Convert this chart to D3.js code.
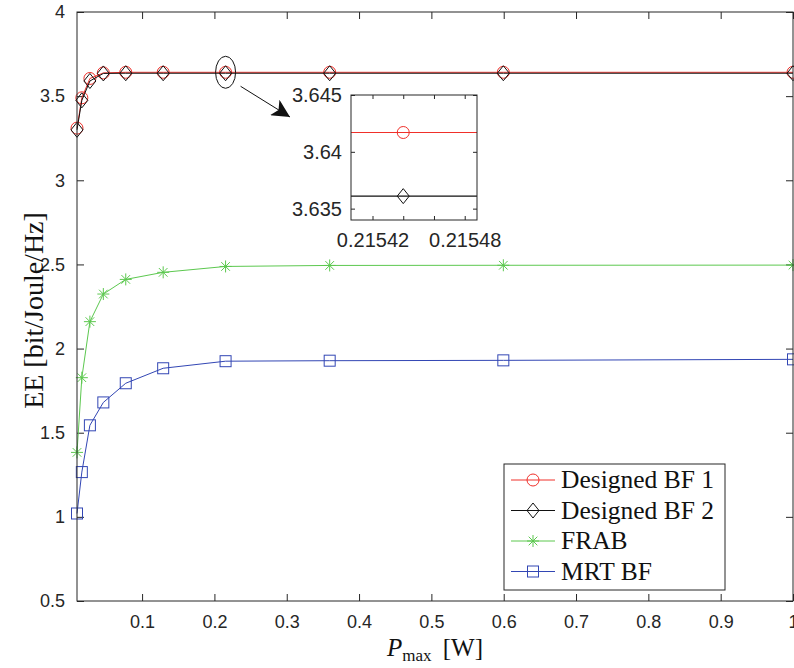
<!DOCTYPE html>
<html>
<head>
<meta charset="utf-8">
<script src="https://cdn.jsdelivr.net/npm/d3@7"></script>
<style>
  body { margin: 0; background: #fff; }
  svg { display: block; }
  .tick text { font-family: "Liberation Sans", Arial, sans-serif; fill: #262626; }
</style>
</head>
<body>
<svg id="svg" width="794" height="668"></svg>
<script>
// transmit power values (W)
const pmax = [0.01, 0.016681, 0.027826, 0.046416, 0.077426, 0.12915, 0.21544, 0.35938, 0.59948, 1];
// energy efficiency per scheme
const designedBF1 = [3.31, 3.49, 3.605, 3.638, 3.6417, 3.6417, 3.6417, 3.6417, 3.6417, 3.6417];
const designedBF2 = [3.30, 3.475, 3.59, 3.635, 3.6361, 3.6361, 3.6361, 3.6361, 3.6361, 3.6361];
const frab = [1.383, 1.827, 2.16, 2.324, 2.411, 2.453, 2.488, 2.494, 2.495, 2.496];
const mrtBF = [1.02, 1.266, 1.544, 1.68, 1.794, 1.883, 1.925, 1.928, 1.930, 1.936];

const seriesNames = ["Designed BF 1", "Designed BF 2", "FRAB", "MRT BF"];
const xTicks = [0.1, 0.2, 0.3, 0.4, 0.5, 0.6, 0.7, 0.8, 0.9, 1];
const yTicks = [0.5, 1, 1.5, 2, 2.5, 3, 3.5, 4];
const insetXTicks = [0.21542, 0.21544, 0.21546, 0.21548];
const insetXLabels = ["0.21542", "", "", "0.21548"];
const insetYTicks = [3.635, 3.64, 3.645];

const axisColor = "#262626";
const serifFont = "'Liberation Serif', 'DejaVu Serif', serif";
const series = [
    {name: seriesNames[0], values: designedBF1, color: "#f0302a", marker: "circle"},
    {name: seriesNames[1], values: designedBF2, color: "#111111", marker: "diamond"},
    {name: seriesNames[2], values: frab, color: "#5cc84f", marker: "star"},
    {name: seriesNames[3], values: mrtBF, color: "#3246b4", marker: "square"}
];

const svg = d3.select("#svg");
const m = {left: 77, right: 793, top: 12, bottom: 601};

const x = d3.scaleLinear().domain([0.01, 1]).range([m.left, m.right]);
const y = d3.scaleLinear().domain([0.5, 4]).range([m.bottom, m.top]);

// marker drawing
function drawMarker(g, type, cx, cy, color, s) {
    s = s || 1;
    if (type === "circle") {
        g.append("circle").attr("cx", cx).attr("cy", cy).attr("r", 6 * s)
            .attr("fill", "none").attr("stroke", color).attr("stroke-width", 1);
    } else if (type === "diamond") {
        g.append("path")
            .attr("d", `M${cx},${cy - 7.5 * s} L${cx + 6 * s},${cy} L${cx},${cy + 7.5 * s} L${cx - 6 * s},${cy} Z`)
            .attr("fill", "none").attr("stroke", color).attr("stroke-width", 1);
    } else if (type === "square") {
        g.append("rect").attr("x", cx - 5.5 * s).attr("y", cy - 5.5 * s)
            .attr("width", 11 * s).attr("height", 11 * s)
            .attr("fill", "none").attr("stroke", color).attr("stroke-width", 1);
    } else if (type === "star") {
        let r = 6 * s, d = r * 0.72;
        g.append("path")
            .attr("d", `M${cx - r},${cy} L${cx + r},${cy} M${cx},${cy - r} L${cx},${cy + r}` +
                ` M${cx - d},${cy - d} L${cx + d},${cy + d} M${cx - d},${cy + d} L${cx + d},${cy - d}`)
            .attr("fill", "none").attr("stroke", color).attr("stroke-width", 1);
    }
}

// ****************** main axes ***************************
function styleAxis(g) {
    g.select(".domain").remove();
    g.selectAll(".tick line").attr("stroke", axisColor);
}

svg.append("g")
    .attr("transform", `translate(0,${m.bottom})`)
    .call(d3.axisBottom(x).tickValues(xTicks).tickSizeInner(-7).tickSizeOuter(0).tickPadding(14)
        .tickFormat(d3.format("~g")))
    .call(styleAxis)
    .selectAll("text").attr("font-size", 18);

svg.append("g")
    .attr("transform", `translate(0,${m.top})`)
    .call(d3.axisTop(x).tickValues(xTicks).tickSizeInner(-7).tickSizeOuter(0).tickFormat(""))
    .call(styleAxis);

svg.append("g")
    .attr("transform", `translate(${m.left},0)`)
    .call(d3.axisLeft(y).tickValues(yTicks).tickSizeInner(-7).tickSizeOuter(0).tickPadding(12)
        .tickFormat(d3.format("~g")))
    .call(styleAxis)
    .selectAll("text").attr("font-size", 18);

svg.append("g")
    .attr("transform", `translate(${m.right},0)`)
    .call(d3.axisRight(y).tickValues(yTicks).tickSizeInner(-7).tickSizeOuter(0).tickFormat(""))
    .call(styleAxis);

// ****************** series ***************************
const line = d3.line().x((d, i) => x(pmax[i])).y(d => y(d));
series.forEach(function (s) {
    let g = svg.append("g");
    g.append("path").datum(s.values).attr("d", line)
        .attr("fill", "none").attr("stroke", s.color).attr("stroke-width", 1);
    s.values.forEach(function (v, i) {
        drawMarker(g, s.marker, x(pmax[i]), y(v), s.color);
    });
});

// box
svg.append("rect").attr("x", m.left).attr("y", m.top)
    .attr("width", m.right - m.left).attr("height", m.bottom - m.top)
    .attr("fill", "none").attr("stroke", axisColor).attr("stroke-width", 1);

// axis labels
svg.append("text")
    .attr("x", (m.left + m.right) / 2).attr("y", 656)
    .attr("text-anchor", "middle")
    .attr("font-family", serifFont).attr("font-size", 25).attr("fill", "#111")
    .call(function (t) {
        t.append("tspan").attr("font-style", "italic").text("P");
        t.append("tspan").attr("font-size", 17).attr("dy", 5).text("max");
        t.append("tspan").attr("dy", -5).text("\u2009 [W]");
    });

svg.append("text")
    .attr("transform", `translate(43,${(m.top + m.bottom) / 2 + 4}) rotate(-90)`)
    .attr("text-anchor", "middle")
    .attr("font-family", serifFont).attr("font-size", 28).attr("fill", "#111")
    .text("EE [bit/Joule/Hz]");

// ****************** zoom annotation ***************************
const zoomIdx = 6;
const ellCx = x(pmax[zoomIdx]), ellCy = y(designedBF1[zoomIdx]);
svg.append("ellipse").attr("cx", ellCx).attr("cy", ellCy).attr("rx", 10).attr("ry", 16)
    .attr("fill", "none").attr("stroke", "#111").attr("stroke-width", 1);

const inset = {left: 351, right: 477, top: 95, bottom: 220};

svg.append("defs").append("marker")
    .attr("id", "arrow").attr("viewBox", "0 0 10 10").attr("refX", 10).attr("refY", 5)
    .attr("markerWidth", 24).attr("markerHeight", 18).attr("markerUnits", "userSpaceOnUse")
    .attr("orient", "auto")
    .append("path").attr("d", "M0,0 L10,5 L0,10 L2.5,5 Z").attr("fill", "#111");

svg.append("line")
    .attr("x1", ellCx + 15).attr("y1", ellCy + 14)
    .attr("x2", inset.left - 61).attr("y2", inset.top + 22)
    .attr("stroke", "#111").attr("stroke-width", 1).attr("marker-end", "url(#arrow)");

// ****************** inset ***************************
const ix = d3.scaleLinear().domain([0.215406, 0.215488]).range([inset.left, inset.right]);
const iy = d3.scaleLinear().domain([3.634, 3.645]).range([inset.bottom, inset.top]);

svg.append("rect").attr("x", inset.left).attr("y", inset.top)
    .attr("width", inset.right - inset.left).attr("height", inset.bottom - inset.top)
    .attr("fill", "#fff");

svg.append("clipPath").attr("id", "insetClip")
    .append("rect").attr("x", inset.left).attr("y", inset.top)
    .attr("width", inset.right - inset.left).attr("height", inset.bottom - inset.top);

const ig = svg.append("g").attr("clip-path", "url(#insetClip)");
const near = [5, 6, 7];
series.slice(0, 2).forEach(function (s) {
    let pts = near.map(i => [ix(pmax[i]), iy(s.values[i])]);
    ig.append("path").attr("d", d3.line()(pts))
        .attr("fill", "none").attr("stroke", s.color).attr("stroke-width", 1.2);
    drawMarker(ig, s.marker, ix(pmax[zoomIdx]), iy(s.values[zoomIdx]), s.color);
});

svg.append("g").attr("transform", `translate(0,${inset.bottom})`)
    .call(d3.axisBottom(ix).tickValues(insetXTicks).tickSizeInner(-4).tickSizeOuter(0).tickPadding(13)
        .tickFormat((d, i) => insetXLabels[i]))
    .call(styleAxis)
    .selectAll("text").attr("font-size", 20);
svg.append("g").attr("transform", `translate(0,${inset.top})`)
    .call(d3.axisTop(ix).tickValues(insetXTicks).tickSizeInner(-4).tickSizeOuter(0).tickFormat(""))
    .call(styleAxis);
svg.append("g").attr("transform", `translate(${inset.left},0)`)
    .call(d3.axisLeft(iy).tickValues(insetYTicks).tickSizeInner(-4).tickSizeOuter(0).tickPadding(9)
        .tickFormat(d3.format("~g")))
    .call(styleAxis)
    .selectAll("text").attr("font-size", 20);
svg.append("g").attr("transform", `translate(${inset.right},0)`)
    .call(d3.axisRight(iy).tickValues(insetYTicks).tickSizeInner(-4).tickSizeOuter(0).tickFormat(""))
    .call(styleAxis);

svg.append("rect").attr("x", inset.left).attr("y", inset.top)
    .attr("width", inset.right - inset.left).attr("height", inset.bottom - inset.top)
    .attr("fill", "none").attr("stroke", axisColor).attr("stroke-width", 1);

// ****************** legend ***************************
const leg = {left: 504, top: 464, width: 221, height: 126, row: 30.5};
const lg = svg.append("g");
lg.append("rect").attr("x", leg.left).attr("y", leg.top).attr("width", leg.width).attr("height", leg.height)
    .attr("fill", "#fff").attr("stroke", axisColor).attr("stroke-width", 1);
series.forEach(function (s, i) {
    let cy = leg.top + 16 + i * leg.row;
    lg.append("line").attr("x1", leg.left + 7).attr("x2", leg.left + 51)
        .attr("y1", cy).attr("y2", cy).attr("stroke", s.color).attr("stroke-width", 1);
    drawMarker(lg, s.marker, leg.left + 29, cy, s.color);
    lg.append("text").attr("x", leg.left + 57).attr("y", cy + 8)
        .attr("font-family", serifFont).attr("font-size", 25.5).attr("fill", "#111")
        .text(s.name);
});
</script>
</body>
</html>
